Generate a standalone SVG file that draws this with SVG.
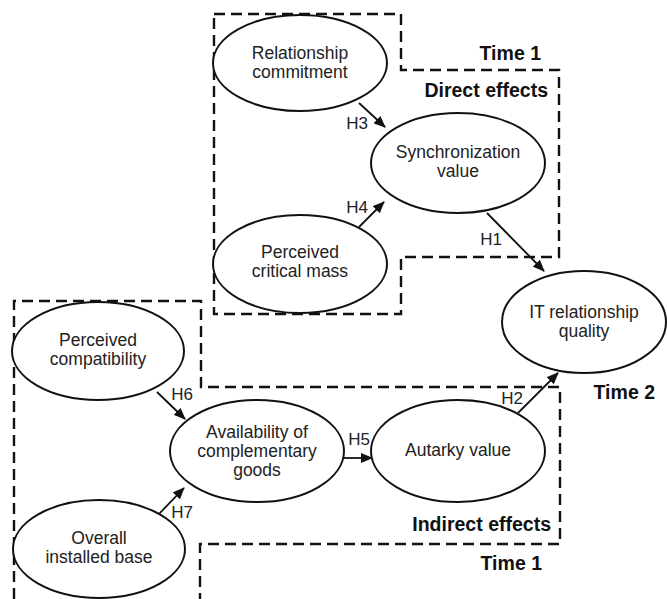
<svg xmlns="http://www.w3.org/2000/svg" width="667" height="599" viewBox="0 0 667 599">
<style>
.bg{fill:#fff}
.box{fill:none;stroke:#111;stroke-width:2.4;stroke-dasharray:11 6}
.node ellipse{fill:#fff;stroke:#111;stroke-width:2}
.t{font-family:"Liberation Sans",Arial,sans-serif;font-size:17.5px;fill:#222;text-anchor:middle}
.h{font-family:"Liberation Sans",Arial,sans-serif;font-size:17px;fill:#222;text-anchor:end}
.b{font-family:"Liberation Sans",Arial,sans-serif;font-size:19.5px;font-weight:bold;fill:#111;text-anchor:end}
.edge{stroke:#111;stroke-width:1.8;fill:none;marker-end:url(#ah)}
</style>
<defs>
<marker id="ah" markerUnits="userSpaceOnUse" markerWidth="12" markerHeight="10" refX="11" refY="5" orient="auto">
<path d="M0,0 L12,5 L0,10 Z" fill="#111"/>
</marker>
</defs>
<rect class="bg" width="667" height="599"/>
<g id="regions">
<path class="box" d="M214,14 H401 V70 H559 V257 H401 V314 H214 Z"/>
<path class="box" d="M14,599 V301 H201 V387 H560 V544 H200 V599"/>
<text class="b" x="541" y="60">Time 1</text>
<text class="b" x="548" y="97">Direct effects</text>
<text class="b" x="655" y="399">Time 2</text>
<text class="b" x="551" y="531">Indirect effects</text>
<text class="b" x="542" y="570">Time 1</text>
</g>
<g id="connectors">
<line class="edge" x1="359" y1="103" x2="385" y2="127"/>
<line class="edge" x1="359" y1="227" x2="384" y2="202"/>
<line class="edge" x1="487" y1="213" x2="544" y2="271"/>
<line class="edge" x1="518" y1="413" x2="558" y2="373"/>
<line class="edge" x1="343" y1="458" x2="372" y2="458"/>
<line class="edge" x1="157" y1="392" x2="185" y2="419"/>
<line class="edge" x1="158" y1="515" x2="184" y2="488"/>
<text class="h" x="368" y="129">H3</text>
<text class="h" x="368" y="213">H4</text>
<text class="h" x="502" y="245">H1</text>
<text class="h" x="523" y="404">H2</text>
<text class="h" x="370" y="445">H5</text>
<text class="h" x="193" y="400">H6</text>
<text class="h" x="193" y="518">H7</text>
</g>
<g id="relationship-commitment" class="node">
<ellipse cx="300" cy="63" rx="87" ry="48"/>
<text class="t" x="300" y="59">Relationship</text>
<text class="t" x="300" y="78">commitment</text>
</g>
<g id="synchronization-value" class="node">
<ellipse cx="458" cy="163" rx="87" ry="50"/>
<text class="t" x="458" y="158">Synchronization</text>
<text class="t" x="458" y="177">value</text>
</g>
<g id="perceived-critical-mass" class="node">
<ellipse cx="300" cy="264" rx="87" ry="49"/>
<text class="t" x="300" y="258">Perceived</text>
<text class="t" x="300" y="277">critical mass</text>
</g>
<g id="it-relationship-quality" class="node">
<ellipse cx="584" cy="322" rx="82" ry="51"/>
<text class="t" x="584" y="318">IT relationship</text>
<text class="t" x="584" y="337">quality</text>
</g>
<g id="perceived-compatibility" class="node">
<ellipse cx="98" cy="351" rx="86" ry="49"/>
<text class="t" x="98" y="346">Perceived</text>
<text class="t" x="98" y="365">compatibility</text>
</g>
<g id="availability-complementary-goods" class="node">
<ellipse cx="257" cy="451" rx="87" ry="51"/>
<text class="t" x="257" y="438">Availability of</text>
<text class="t" x="257" y="457">complementary</text>
<text class="t" x="257" y="476">goods</text>
</g>
<g id="autarky-value" class="node">
<ellipse cx="458" cy="451" rx="87" ry="51"/>
<text class="t" x="458" y="456">Autarky value</text>
</g>
<g id="overall-installed-base" class="node">
<ellipse cx="99" cy="549" rx="86" ry="49"/>
<text class="t" x="99" y="544">Overall</text>
<text class="t" x="99" y="563">installed base</text>
</g>
</svg>
